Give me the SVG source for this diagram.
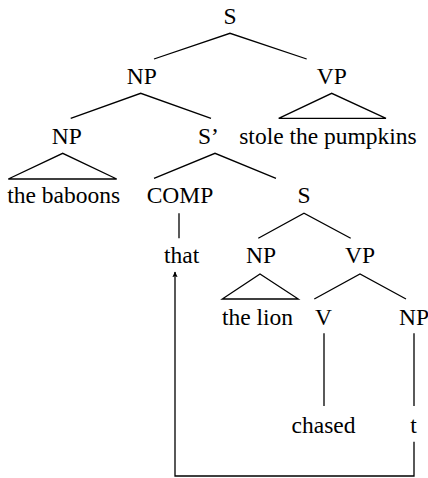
<svg xmlns="http://www.w3.org/2000/svg" width="428" height="478" viewBox="0 0 428 478">
  <style>
    text { font-family: 'Liberation Serif', 'DejaVu Serif', serif; font-size: 23.5px; fill: #000; text-anchor: middle; }
    .edge { stroke: #000; stroke-width: 1.3; fill: none; stroke-linecap: butt; }
  </style>
  <defs>
    <marker id="arrow" viewBox="0 0 10 10" refX="9" refY="5" markerWidth="6" markerHeight="6" markerUnits="userSpaceOnUse" orient="auto">
      <path d="M0,0.5 L10,5 L0,9.5 L2.5,5 Z" fill="#000"/>
    </marker>
  </defs>

  <!-- tree branches, triangles and movement arrow -->
  <g id="connectors">
    <polyline class="edge" points="154,59 230,33.3 306.7,59"/>
    <polyline class="edge" points="70.7,118.3 140.7,93.3 211,118.3"/>
    <polygon class="edge" points="278.7,118.3 331.7,93.3 386,118.3"/>
    <polygon class="edge" points="8.3,179 62.7,153.3 116.7,179"/>
    <polyline class="edge" points="154,178.3 215,153.3 276,178.3"/>
    <line class="edge" x1="179" y1="213.3" x2="179" y2="238.3"/>
    <polyline class="edge" points="258.3,238.3 304,213.3 350.7,238.3"/>
    <polygon class="edge" points="222.3,299 260,274 298.3,299"/>
    <polyline class="edge" points="314.3,299 360,274 406,299"/>
    <line class="edge" x1="324" y1="333.3" x2="324" y2="406"/>
    <line class="edge" x1="414" y1="333.3" x2="414" y2="406"/>
    <polyline class="edge" points="414,441.7 414,476 175,476 175,272" marker-end="url(#arrow)"/>
  </g>

  <g id="s-root"><text x="230" y="24" font-family="Liberation Serif, serif">S</text></g>
  <g id="np-subject"><text x="141.7" y="84">NP</text></g>
  <g id="vp-main"><text x="331.7" y="84">VP</text></g>
  <g id="np-head"><text x="66.7" y="144">NP</text></g>
  <g id="s-bar"><text x="208.5" y="144">S’</text></g>
  <g id="vp-main-words"><text x="328" y="144">stole the pumpkins</text></g>
  <g id="np-head-words"><text x="63.7" y="203">the baboons</text></g>
  <g id="comp"><text x="180" y="203">COMP</text></g>
  <g id="s-embedded"><text x="304" y="203">S</text></g>
  <g id="comp-word"><text x="181.7" y="263">that</text></g>
  <g id="np-embedded"><text x="261" y="263">NP</text></g>
  <g id="vp-embedded"><text x="360" y="263">VP</text></g>
  <g id="np-embedded-words"><text x="257.5" y="325">the lion</text></g>
  <g id="v"><text x="323.5" y="325">V</text></g>
  <g id="np-object"><text x="414" y="325">NP</text></g>
  <g id="v-word"><text x="323.5" y="432.7">chased</text></g>
  <g id="trace"><text x="413.5" y="432.7">t</text></g>
</svg>
